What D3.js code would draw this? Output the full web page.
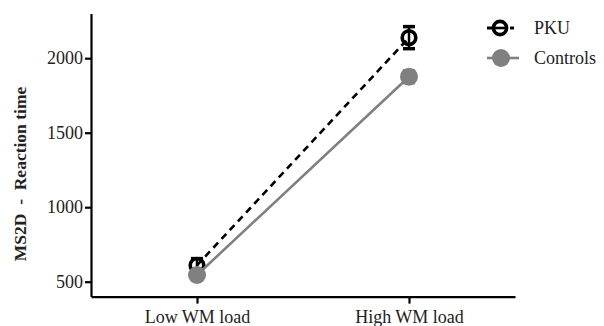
<!DOCTYPE html>
<html>
<head>
<meta charset="utf-8">
<script src="https://cdn.jsdelivr.net/npm/d3@7"></script>
<style>
  html, body { margin: 0; padding: 0; background: #fff; }
  svg { display: block; }
  svg text { font-family: 'Liberation Serif', 'Times New Roman', Times, 'DejaVu Serif', serif; }
</style>
</head>
<body>
<svg id="chart" width="604" height="326"></svg>
<script>
(function () {
  'use strict';

  // data
  const loads = ['Low WM load', 'High WM load'];
  const pkuMeans = [610, 2138];
  const pkuErr = [45, 74];
  const ctrlMeans = [545, 1876];
  const ctrlErr = [30, 40];
  const yTicks = [500, 1000, 1500, 2000];
  const yDomain = [400, 2300];

  const series = [
    { name: 'PKU', means: pkuMeans, err: pkuErr, color: '#000', dash: '7 5', open: true },
    { name: 'Controls', means: ctrlMeans, err: ctrlErr, color: '#808080', dash: null, open: false },
  ];

  const svg = d3.select('#chart');
  const serif = "'Liberation Serif', 'Times New Roman', Times, serif";

  const x = d3.scalePoint().domain(loads).range([91, 515]).padding(0.5);
  const y = d3.scaleLinear().domain(yDomain).range([296.6, 13.5]);

  // axes
  const gx = svg.append('g').attr('transform', 'translate(0,296.6)')
    .call(d3.axisBottom(x).tickSize(7).tickSizeOuter(0).tickPadding(6));
  const gy = svg.append('g').attr('transform', 'translate(91,0)')
    .call(d3.axisLeft(y).tickValues(yTicks).tickFormat(d3.format('d'))
      .tickSize(6).tickSizeOuter(0).tickPadding(2));
  [gx, gy].forEach((g) => {
    g.attr('font-family', serif).attr('font-size', 18);
    g.select('.domain').attr('stroke', '#000').attr('stroke-width', 2.2);
    g.selectAll('.tick line').attr('stroke', '#000').attr('stroke-width', 2.2);
    g.selectAll('.tick text').attr('fill', '#222');
  });
  gx.selectAll('.tick text').attr('dy', '0.72em');

  svg.append('text')
    .attr('transform', 'translate(26,174) rotate(-90)')
    .attr('text-anchor', 'middle')
    .attr('font-family', serif).attr('font-size', 17.5).attr('font-weight', 'bold')
    .attr('fill', '#222')
    .attr('xml:space', 'preserve')
    .text('MS2D  -  Reaction time');

  const line = d3.line().x((d, i) => x(loads[i])).y((d) => y(d));

  series.forEach((s) => {
    const g = svg.append('g');
    g.append('path').datum(s.means).attr('d', line)
      .attr('fill', 'none').attr('stroke', s.color).attr('stroke-width', 2.6)
      .attr('stroke-dasharray', s.dash);

    // error bars
    s.means.forEach((m, i) => {
      const cx = x(loads[i]);
      g.append('line').attr('x1', cx).attr('x2', cx)
        .attr('y1', y(m - s.err[i])).attr('y2', y(m + s.err[i]))
        .attr('stroke', s.color).attr('stroke-width', 2.5);
      [m - s.err[i], m + s.err[i]].forEach((v) => {
        g.append('line').attr('x1', cx - 6).attr('x2', cx + 6)
          .attr('y1', y(v)).attr('y2', y(v))
          .attr('stroke', s.color).attr('stroke-width', 3.5);
      });
    });

    g.selectAll('circle').data(s.means).enter().append('circle')
      .attr('cx', (d, i) => x(loads[i]))
      .attr('cy', (d) => y(d))
      .attr('r', s.open ? 6.8 : 9)
      .attr('fill', s.open ? 'none' : s.color)
      .attr('stroke', s.open ? s.color : 'none')
      .attr('stroke-width', s.open ? 3.6 : 0);
  });

  // legend
  const leg = svg.append('g').attr('transform', 'translate(500,0)');
  series.forEach((s, i) => {
    const ly = 28 + i * 30;
    const row = leg.append('g').attr('transform', `translate(0,${ly})`);
    if (s.open) {
      row.append('line').attr('x1', -13).attr('x2', -8).attr('y1', 0).attr('y2', 0)
        .attr('stroke', s.color).attr('stroke-width', 3);
      row.append('line').attr('x1', 10).attr('x2', 14).attr('y1', 0).attr('y2', 0)
        .attr('stroke', s.color).attr('stroke-width', 3);
      row.append('line').attr('x1', -5).attr('x2', 5).attr('y1', 0).attr('y2', 0)
        .attr('stroke', s.color).attr('stroke-width', 2.6);
      row.append('circle').attr('r', 6.6).attr('fill', 'none')
        .attr('stroke', s.color).attr('stroke-width', 3.6);
    } else {
      row.append('line').attr('x1', -13).attr('x2', 19).attr('y1', 0).attr('y2', 0)
        .attr('stroke', s.color).attr('stroke-width', 2.6);
      row.append('circle').attr('cx', 1).attr('r', 9).attr('fill', s.color);
    }
    row.append('text').attr('x', 34).attr('dy', '0.35em')
      .attr('font-family', serif).attr('font-size', 18).attr('fill', '#222')
      .text(s.name);
  });
})();
</script>
</body>
</html>
